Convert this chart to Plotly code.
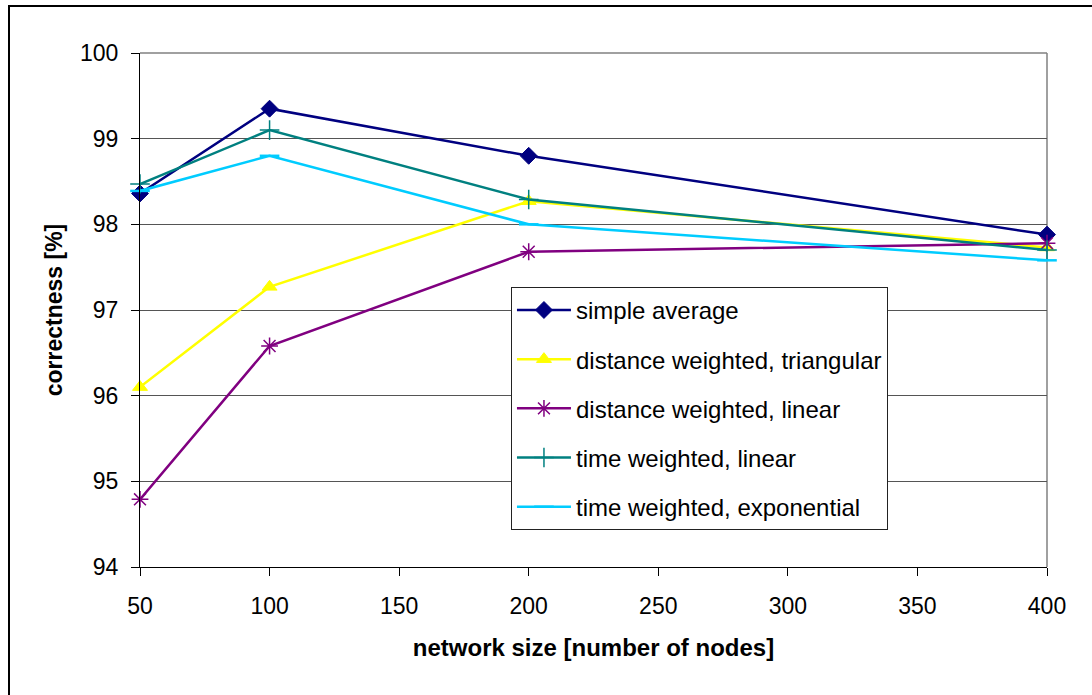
import plotly.graph_objects as go

network_size = [50, 100, 200, 400]
simple_average = [98.36, 99.35, 98.80, 97.88]
dist_triangular = [96.10, 97.27, 98.27, 97.73]
dist_linear = [94.79, 96.58, 97.68, 97.78]
time_linear = [98.47, 99.10, 98.29, 97.70]
time_exponential = [98.39, 98.80, 98.00, 97.58]

series = [
    ("simple average", simple_average, "#000080", "diamond", 13, 1),
    ("distance weighted, triangular", dist_triangular, "#FFFF00", "triangle-up", 13, 1),
    ("distance weighted, linear", dist_linear, "#800080", "asterisk-open", 14, 1.5),
    ("time weighted, linear", time_linear, "#008080", "cross-thin-open", 14, 1.5),
    ("time weighted, exponential", time_exponential, "#00CCFF", "line-ew-open", 14, 2.5),
]

fig = go.Figure()
for i, (name, vals, color, sym, size, mlw) in enumerate(series):
    fig.add_trace(go.Scatter(
        x=network_size, y=vals, name=name, mode="lines+markers",
        line=dict(color=color, width=2.5),
        marker=dict(symbol=sym, size=size, color=color,
                    line=dict(color=color, width=mlw)),
        cliponaxis=False, legendgroup=f"g{i}",
    ))

fig.update_layout(
    width=1092, height=695,
    margin=dict(l=140, r=45, t=53, b=128),
    paper_bgcolor="white", plot_bgcolor="white",
    font=dict(family="Liberation Sans, Arial, sans-serif", color="black"),
    showlegend=True,
    legend=dict(
        x=0.409, y=0.545, xanchor="left", yanchor="top",
        bgcolor="white", bordercolor="#222222", borderwidth=1,
        font=dict(size=24, color="black"),
        tracegroupgap=15, itemwidth=54,
    ),
)

fig.update_xaxes(
    range=[50, 400], tickmode="linear", tick0=50, dtick=50,
    showgrid=False, zeroline=False,
    showline=True, linecolor="black", linewidth=1,
    ticks="outside", ticklen=8, tickcolor="black",
    tickfont=dict(size=23), ticklabelstandoff=10,
    title=dict(text="<b>network size [number of nodes]</b>", font=dict(size=24), standoff=21),
)
fig.update_yaxes(
    range=[94, 100], tickmode="linear", tick0=94, dtick=1,
    showgrid=True, gridcolor="#555555", gridwidth=1, zeroline=False,
    showline=True, linecolor="black", linewidth=1,
    ticks="outside", ticklen=8, tickcolor="black",
    tickfont=dict(size=23), ticklabelstandoff=8,
    title=dict(text="<b>correctness [%]</b>", font=dict(size=23), standoff=10),
)

# plot-area border (top / right) in gray
fig.add_shape(type="line", xref="paper", yref="paper", x0=0, x1=1, y0=1, y1=1,
              line=dict(color="#808080", width=1.5), layer="below")
fig.add_shape(type="line", xref="paper", yref="paper", x0=1, x1=1, y0=0, y1=1,
              line=dict(color="#808080", width=1.5), layer="below")
# outer chart frame (partly outside the window)
fig.add_shape(type="rect", xref="paper", yref="paper",
              x0=(9 - 140) / 907, x1=(1110 - 140) / 907,
              y0=(567 - 710) / 514, y1=(567 - 6) / 514,
              line=dict(color="black", width=2))

fig.write_html("out.html")
